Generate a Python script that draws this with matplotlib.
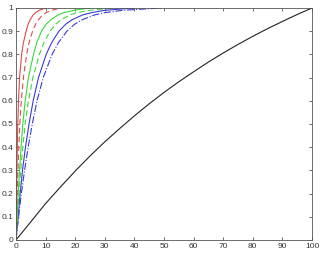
import matplotlib
matplotlib.use('Agg')
import matplotlib.pyplot as plt
import numpy as np

plt.rc('font', family='Liberation Sans', size=6)

# cumulative curves (x position at each y level)
y_lvl = [0, 0.1, 0.2, 0.3, 0.4, 0.5, 0.6, 0.7, 0.8, 0.85, 0.9, 0.93, 0.95, 0.97, 0.98, 0.99, 1]
red_solid_x = [0, 0.1, 0.2, 0.3, 0.45, 0.6, 0.85, 1.2, 1.9, 2.5, 3.4, 4.1, 4.8, 5.8, 6.6, 7.8, 10]
red_dash_x = [0, 0.2, 0.4, 0.65, 0.95, 1.3, 1.8, 2.5, 3.6, 4.4, 5.6, 6.6, 7.6, 9.0, 10.2, 12, 15]
green_solid_x = [0, 0.35, 0.75, 1.2, 1.7, 2.3, 3.1, 4.2, 5.9, 7.0, 8.6, 10.2, 11.8, 14.2, 16.2, 19.5, 25]
green_dash_x = [0, 0.5, 1.0, 1.6, 2.3, 3.1, 4.2, 5.7, 7.9, 9.4, 11.5, 13.4, 15.3, 18.2, 20.5, 25, 33]
blue_solid_x = [0, 0.7, 1.4, 2.2, 3.2, 4.4, 5.8, 7.6, 10.2, 12.0, 14.5, 16.8, 19, 22.5, 25.5, 30, 40]
blue_dashdot_x = [0, 0.9, 1.8, 2.9, 4.1, 5.5, 7.1, 9.2, 12.2, 14.3, 17.2, 19.8, 22.5, 26.5, 30, 36, 49]

black_x = [0, 5, 10, 15, 20, 25, 30, 35, 40, 45, 50, 55, 60, 65, 70, 75, 80, 85, 90, 95, 100]
black_y = [0, 0.078, 0.157, 0.228, 0.297, 0.362, 0.423, 0.48, 0.535, 0.587, 0.636, 0.682,
           0.725, 0.767, 0.806, 0.843, 0.878, 0.911, 0.942, 0.972, 1]

xticks = np.arange(0, 101, 10)
yticks = np.round(np.arange(0, 1.01, 0.1), 1)
ytick_labels = ['0', '0.1', '0.2', '0.3', '0.4', '0.5', '0.6', '0.7', '0.8', '0.9', '1']

fig = plt.figure(figsize=(3.2, 2.58), dpi=100)
ax = fig.add_axes([0.05, 0.07, 0.925, 0.899])

lw = 0.8
ax.plot(black_x, black_y, color='#222222', lw=lw)
ax.plot(blue_dashdot_x, y_lvl, color='#3a3ad8', lw=lw, ls='-.')
ax.plot(blue_solid_x, y_lvl, color='#3a3ad8', lw=lw)
ax.plot(green_dash_x, y_lvl, color='#3ad83a', lw=lw, ls=(0, (5, 3)))
ax.plot(green_solid_x, y_lvl, color='#3ad83a', lw=lw)
ax.plot(red_dash_x, y_lvl, color='#e04a4a', lw=lw, ls=(0, (5, 3)))
ax.plot(red_solid_x, y_lvl, color='#e04a4a', lw=lw)

ax.set_xlim(0, 100)
ax.set_ylim(0, 1)
ax.set_xticks(xticks)
ax.set_yticks(yticks)
ax.set_yticklabels(ytick_labels)
ax.tick_params(direction='in', length=2.5, width=0.5, top=True, right=True,
               pad=2, colors='#333333')
for s in ax.spines.values():
    s.set_color('#555555')
    s.set_linewidth(0.6)

fig.savefig('out.png', dpi=100)
